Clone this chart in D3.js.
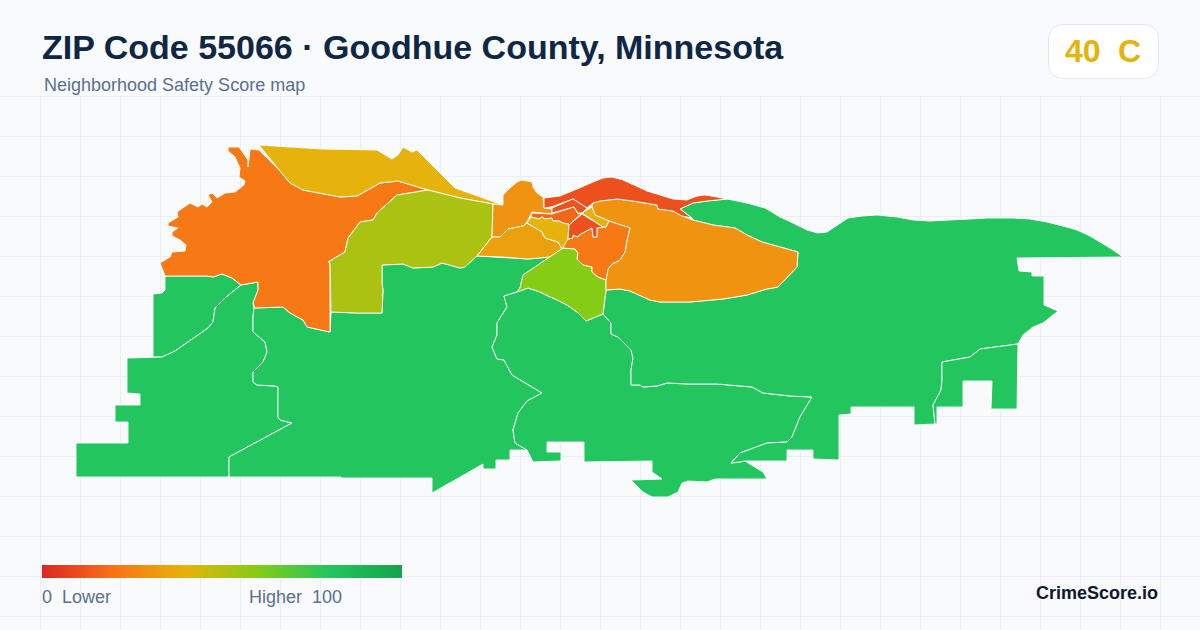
<!DOCTYPE html>
<html>
<head>
<meta charset="utf-8">
<script src="https://cdn.jsdelivr.net/npm/d3@7/dist/d3.min.js"></script>
<style>
html,body{margin:0;padding:0;background:#f8fafc;}
svg{display:block;font-family:"Liberation Sans",Arial,sans-serif;}
</style>
</head>
<body>
<svg id="chart" width="1200" height="630"></svg>
<script>
// Text
const titleText = "ZIP Code 55066 · Goodhue County, Minnesota";
const subtitleText = "Neighborhood Safety Score map";
const gradeScore = "40";
const gradeLetter = "C";
const legendLow = "0  Lower";
const legendHigh = "Higher  100";
const brandText = "CrimeScore.io";

// Colour scale
const scoreStops = [0, 20, 40, 60, 80, 100];
const scoreColors = ["#dc2626", "#f97316", "#e5b30b", "#84cc16", "#22c55e", "#16a34a"];

// Neighborhood scores
const regionScores = {
  greenNW: 80, greenW: 80, greenC: 80, greenS: 80, greenE: 80, greenSE: 80,
  west: 22, northGold: 40, olive: 52, northCenter: 30, southCenter: 34, lime: 60,
  eastCenter: 22, bigEast: 30, riverStrip: 11, band: 12, core: 17, coreGold: 40, coreRed: 11, coreTip: 39
};

// Neighborhood outlines (map grid units, y runs south)
const greenNW = [[16.5,27.6],[20.7,27.6],[21.3,27.7],[22.2,27.4],[23.2,27.8],[24.1,28.5],[22.5,29.8],[21.5,30.8],[21.3,32.2],[20.8,32.8],[17.5,35.1],[16.2,35.7],[15.3,35.7],[15.3,29.4],[16.2,29.3],[16.5,29]];
const greenW = [[24.1,28.5],[25.8,28.2],[25.8,29],[25.3,30.3],[25.4,30.8],[25.3,31.7],[25.3,33.2],[26.5,34.2],[26.7,35.2],[26.3,36.2],[25.3,37.2],[25.3,38.2],[25.7,38.5],[27.5,38.6],[27.8,38.7],[27.8,41.7],[28,42],[29.2,42.3],[22.9,45.7],[22.9,47.7],[7.6,47.7],[7.6,44.3],[12.8,44.3],[12.8,42.2],[11.5,42.2],[11.5,40.5],[14,40.5],[14,39.4],[12.7,39.3],[12.7,35.8],[16.2,35.7],[17.5,35.1],[20.8,32.8],[21.3,32.2],[21.5,30.8],[22.5,29.8]];
const greenC = [[25.4,30.8],[28.3,30.7],[29,31.3],[30.3,32],[30.7,32.7],[33,33.2],[33.1,31.2],[35.7,31.3],[38.2,31.3],[38.3,29],[38.2,28.3],[38.2,26.5],[40.3,26.4],[41.3,26.8],[43.3,26.7],[44.2,26.3],[46,26.8],[46.4,26.7],[47.7,25.6],[52.8,25.9],[55,25.7],[56.3,24.9],[52.3,27.5],[52,28.8],[51.7,29.2],[50.4,29.6],[50.7,30.7],[49.7,32.3],[49.7,33.5],[49.2,34.7],[49.7,35.9],[50.4,36],[51.2,37.5],[54.2,39.3],[52.7,40.1],[51.8,41.3],[51.3,43],[51.5,44.3],[52.7,45],[51,45],[51,46],[49.6,46],[49.6,46.9],[48.3,46.9],[48.3,46.4],[43.2,49.3],[43.2,47.8],[34.1,47.8],[34.1,47.7],[22.9,47.7],[22.9,45.7],[29.2,42.3],[28,42],[27.8,41.7],[27.8,38.7],[27.5,38.6],[25.7,38.5],[25.3,38.2],[25.3,37.2],[26.3,36.2],[26.7,35.2],[26.5,34.2],[25.3,33.2],[25.3,31.7]];
const greenS = [[51.7,29.2],[52.8,28.8],[54,29.2],[54.8,29.6],[55.5,29.9],[56.7,30.5],[57.7,31.2],[58.6,32.1],[60.3,31.4],[61.1,32.3],[61.1,33.4],[61.8,33.7],[63.1,35],[63.3,35.8],[63.1,37],[63.1,38.5],[64,38.5],[64.3,38.7],[65.7,38.6],[66.7,38.3],[68.8,38.4],[71.7,38.4],[75.2,38.7],[76.3,39.3],[79,39.6],[81.2,39.7],[80,41.7],[79.2,43.7],[78.7,44.2],[76.7,44.3],[74,45.3],[73.1,46.3],[74,46.2],[74.5,46.1],[76.3,47.2],[76.7,47.9],[71.5,47.9],[70.7,48.2],[68.8,48.1],[68.2,48.3],[67.8,49.2],[66.8,49.7],[65.2,49.7],[64.3,49.2],[63.1,48],[66.2,47.9],[65.2,47.2],[65.2,46.1],[58.4,46.2],[58.4,44.2],[54.7,44.2],[54.7,45.2],[56.1,45.2],[56.1,46.1],[53.3,46.2],[52.7,45],[51.5,44.3],[51.3,43],[51.8,41.3],[52.7,40.1],[54.2,39.3],[51.2,37.5],[50.4,36],[49.7,35.9],[49.2,34.7],[49.7,33.5],[49.7,32.3],[50.7,30.7],[50.4,29.6]];
const greenE = [[60.3,31.4],[60.6,29],[62,28.9],[63,29.1],[65,30],[66,30.2],[69,30.2],[72.3,29.9],[74.7,29.5],[76.7,28.9],[77.8,28.7],[79.7,26.7],[79.8,25.2],[76.2,24.2],[74.7,23.5],[73.5,22.8],[71.3,22.5],[69.3,22],[69.2,21.8],[68,20.9],[69.3,20.3],[70.7,20.1],[72.7,19.9],[74.7,20.3],[76.5,20.8],[78,21.7],[79.5,22.4],[80.7,23],[81.8,23.3],[82.7,23.2],[84.8,21.8],[86.2,21.6],[87.7,21.5],[89.7,21.7],[91.3,22],[93,22.1],[95,22],[97,21.9],[98.7,21.8],[101.3,21.8],[103,21.9],[104.7,22.2],[106.3,22.6],[107.7,23],[109,23.6],[110,24.2],[111,24.8],[112.3,25.7],[101.7,25.8],[101.9,27.1],[103.2,27.2],[103.2,27.6],[104.4,27.6],[104.4,30.5],[105.8,31.1],[104.3,32.3],[103.3,32.7],[102.3,33.5],[101.8,34.4],[98,34.9],[97,35.7],[94.2,36.2],[94.2,38],[94.1,39],[93.3,40.5],[93.5,42.4],[91.4,42.5],[91.4,40.7],[85.1,40.7],[85.1,41.4],[83.9,41.5],[83.9,46],[81.3,45.9],[81.3,45],[78.7,45],[78.7,46.1],[75.6,46.1],[74.5,46.1],[74,46.2],[73.1,46.3],[74,45.3],[76.7,44.3],[78.7,44.2],[79.2,43.7],[80,41.7],[81.2,39.7],[79,39.6],[76.3,39.3],[75.2,38.7],[71.7,38.4],[68.8,38.4],[66.7,38.3],[65.7,38.6],[64.3,38.7],[64,38.5],[63.1,38.5],[63.1,37],[63.3,35.8],[63.1,35],[61.8,33.7],[61.1,33.4],[61.1,32.3]];
const greenSE = [[101.8,34.4],[101.7,40.9],[99.1,40.9],[99.2,38.1],[96.3,38.1],[96.3,40.7],[93.7,40.7],[93.7,42.4],[93.5,42.4],[93.3,40.5],[94.1,39],[94.2,38],[94.2,36.2],[97,35.7],[98,34.9]];
const west = [[25,14.9],[25.9,15],[28,17.1],[29,18.3],[30.3,19],[34,19.7],[35.7,19.6],[38,18.3],[39.8,18.1],[42.8,19],[39.7,19.5],[37.7,21.3],[37.3,22],[36,22.2],[34.8,23.8],[34.5,25.2],[32.8,26.2],[33,26.3],[33,33.2],[30.7,32.7],[30.3,32],[29,31.3],[28.3,30.7],[25.5,30.8],[25.3,30.3],[25.8,29],[25.8,28.2],[24.1,28.5],[23.2,27.8],[22.2,27.4],[21.3,27.7],[20.7,27.6],[16.5,27.6],[16,26.3],[17,25.7],[17.2,25.2],[18.5,25.1],[18.6,24.5],[18,24],[17.2,23.6],[17.2,23.2],[17.8,22.8],[16.8,22.6],[16.8,22.3],[17.8,21.7],[17.7,21.2],[19,20.3],[19.8,20.7],[20.2,20.4],[20.7,20.7],[21.2,20.2],[20.8,19.5],[21.2,19.3],[21.7,19.8],[22.5,19.3],[23.5,19.2],[24.4,18.5],[24.5,18.1],[23.9,17.7],[24,16.8],[23.5,15.7],[22.8,15.1],[22.8,14.7],[23.9,14.7],[24.8,16],[24.8,16.7]];
const northGold = [[25.9,14.5],[32.2,14.9],[37.7,15],[39.2,15.9],[39.8,15.5],[40.3,14.7],[41.2,15.2],[41.7,15],[45.5,18.8],[50.3,20.5],[49.3,20.4],[46,19.8],[42.8,19],[39.8,18.1],[38,18.3],[35.7,19.6],[34,19.7],[30.3,19],[29,18.3],[28,17.1]];
const olive = [[42.8,19],[46,19.8],[49.3,20.4],[49.2,23.7],[47.7,25.6],[46.5,26.7],[46,26.8],[44.2,26.3],[43.3,26.7],[41.3,26.8],[40.3,26.4],[38.2,26.5],[38.2,28.3],[38.3,29],[38.2,31.3],[35.7,31.3],[33.1,31.2],[33,26.3],[32.8,26.2],[34.5,25.2],[34.8,23.8],[36,22.2],[37.3,22],[37.7,21.3],[39.7,19.5]];
const northCenter = [[49.2,23.7],[49.3,20.4],[50.3,20.5],[50.3,19.5],[51,18.8],[51.7,18.2],[52.2,18],[53.2,18.2],[53.3,18.7],[53.7,19.3],[54.3,19.7],[54.4,20.8],[55.2,20.9],[55.2,21.4],[53.2,21.2],[52.7,22.2],[52.3,22.6],[50.8,22.9],[50,23.7]];
const southCenter = [[47.7,25.6],[49.2,23.7],[50,23.7],[50.8,22.9],[52.3,22.6],[52.7,22.3],[54.2,23.2],[54.5,23.8],[55.8,24.2],[56.2,24.9],[55,25.7],[52.8,25.9],[50.3,25.7]];
const core = [[53.2,21.3],[55.2,21.4],[57.4,20.7],[57.8,21.4],[58.2,21.3],[56.9,22.5],[56.3,22.3],[55.9,22.1],[55.3,22.1],[55.2,21.8],[54.5,21.9],[54.2,21.7],[53.9,21.9],[53.1,21.7]];
const coreGold = [[52.7,22.3],[53.1,21.7],[53.9,21.9],[54.2,21.7],[54.5,21.9],[55.2,21.8],[55.3,22.1],[55.9,22.1],[56.3,22.3],[56.9,22.4],[56.8,23.9],[56.2,24.9],[55.8,24.2],[54.5,23.8],[54.2,23.2]];
const riverStrip = [[54.4,19.8],[56,19.6],[57.7,18.9],[59.3,18.2],[60.3,17.8],[61.2,17.7],[62.3,18],[64.7,19.1],[67.3,19.9],[68.7,20],[69.7,19.6],[70.5,19.5],[71.7,19.7],[72.7,19.9],[70.7,20.1],[69.3,20.3],[68,20.9],[69.2,21.8],[68.2,21.6],[67.3,21.1],[65.8,20.9],[65.7,20.5],[63.3,20.1],[61.7,19.9],[60,20.1],[59.3,20.3],[58.7,20.8],[57.3,19.9],[55.1,20.7],[54.4,20.8]];
const band = [[55.2,20.8],[57.3,19.9],[58.7,20.8],[58.2,21.3],[57.8,21.3],[57.4,20.7],[55.2,21.3]];
const coreRed = [[58.2,21.4],[60.3,22.7],[59.7,22.8],[59.7,23.7],[59.3,23.7],[59.2,22.8],[57.9,23.5],[57.8,23.7],[57.3,23.5],[57.3,23.8],[56.8,23.9],[56.9,22.5]];
const coreTip = [[58.2,21.3],[59.2,20.7],[59.5,21.5],[60.9,22.1],[60.6,22.7],[60.3,22.7]];
const eastCenter = [[56.3,24.8],[56.5,24.3],[56.8,23.9],[57.3,23.8],[57.3,23.5],[57.8,23.7],[57.9,23.5],[59.2,22.8],[59.3,23.7],[59.7,23.7],[59.7,22.8],[60.6,22.7],[60.9,22.1],[63,22.8],[62.7,24],[62.5,25.2],[62,26],[61.2,26.4],[60.8,26.9],[60.6,28],[59.8,27.7],[59.2,27.2],[59.2,26.7],[58.3,26.5],[57.7,25.9],[57.8,25.3],[57.5,24.9]];
const lime = [[56.3,24.8],[57.5,24.9],[57.8,25.3],[57.7,25.9],[58.3,26.5],[59.2,26.7],[59.2,27.2],[59.8,27.7],[60.6,28],[60.6,29],[60.3,31.4],[58.6,32.1],[57.7,31.2],[56.7,30.5],[55.5,29.9],[54.8,29.6],[54,29.2],[52.8,28.8],[51.7,29.2],[52,28.8],[52.3,27.5]];
const bigEast = [[60.6,28],[60.8,26.9],[61.2,26.4],[62,26],[62.5,25.2],[62.7,24],[63,22.8],[60.9,22.1],[59.5,21.5],[59.2,20.7],[59.3,20.3],[60,20.1],[61.7,19.9],[63.3,20.1],[65.7,20.5],[65.8,20.9],[67.3,21.1],[68.2,21.6],[69.3,22],[71.3,22.5],[73.5,22.8],[74.7,23.5],[76.2,24.2],[79.8,25.2],[79.7,26.7],[77.8,28.7],[76.7,28.9],[74.7,29.5],[72.3,29.9],[69,30.2],[66,30.2],[65,30],[63,29.1],[62,28.9],[60.6,29]];

const regions = [
  ["greenNW", greenNW], ["greenW", greenW], ["greenC", greenC], ["greenS", greenS], ["greenE", greenE], ["greenSE", greenSE],
  ["west", west], ["northGold", northGold], ["olive", olive], ["northCenter", northCenter], ["southCenter", southCenter],
  ["lime", lime], ["bigEast", bigEast], ["eastCenter", eastCenter], ["riverStrip", riverStrip], ["band", band],
  ["core", core], ["coreGold", coreGold], ["coreRed", coreRed], ["coreTip", coreTip]
];

const W = 1200, H = 630;
const svg = d3.select("#chart");
const color = d3.scaleLinear().domain(scoreStops).range(scoreColors);

// Background grid
const gridX = d3.range(40.5, W, 40);
const gridY = d3.range(96.5, H, 40);
const grid = svg.append("g").attr("stroke", "#e9eff6").attr("stroke-width", 1);
grid.selectAll("line.v").data(gridX).join("line").attr("class","v")
  .attr("x1", d => d).attr("x2", d => d).attr("y1", 96).attr("y2", H);
grid.selectAll("line.h").data(gridY).join("line").attr("class","h")
  .attr("x1", 0).attr("x2", W).attr("y1", d => d).attr("y2", d => d);

// Map
const features = {
  type: "FeatureCollection",
  features: regions.map(([id, ring]) => ({
    type: "Feature", id, properties: { score: regionScores[id] },
    geometry: { type: "Polygon", coordinates: [ring.concat([ring[0]])] }
  }))
};
const projection = d3.geoIdentity().fitExtent([[76, 145], [1123, 497]], features);
const path = d3.geoPath(projection);
svg.append("g").selectAll("path").data(features.features).join("path")
  .attr("d", path)
  .attr("fill", d => color(d.properties.score))
  .attr("stroke", "#ffffff")
  .attr("stroke-width", 0.9)
  .attr("stroke-linejoin", "round");

// Header
svg.append("text").attr("x", 42).attr("y", 59)
  .attr("font-size", 34).attr("font-weight", 700).attr("fill", "#0f2744").text(titleText);
svg.append("text").attr("x", 44).attr("y", 91)
  .attr("font-size", 18).attr("fill", "#5b6f8f").text(subtitleText);

// Grade badge
svg.append("rect").attr("x", 1048.5).attr("y", 24.5).attr("width", 110).attr("height", 54).attr("rx", 14)
  .attr("fill", "#ffffff").attr("stroke", "#e2e8f0");
svg.append("text").attr("x", 1065).attr("y", 62).attr("font-size", 32).attr("font-weight", 700)
  .attr("fill", color(+gradeScore)).text(gradeScore);
svg.append("text").attr("x", 1118).attr("y", 62).attr("font-size", 32).attr("font-weight", 700)
  .attr("fill", color(+gradeScore)).text(gradeLetter);

// Legend
const defs = svg.append("defs");
const legendScale = d3.scaleLinear().domain([0, 100]).range([42, 402]);
const grad = defs.append("linearGradient").attr("id", "legendGrad");
grad.selectAll("stop").data(scoreStops).join("stop")
  .attr("offset", d => d + "%").attr("stop-color", d => color(d));
svg.append("rect").attr("x", legendScale(0)).attr("y", 565)
  .attr("width", legendScale(100) - legendScale(0)).attr("height", 13).attr("fill", "url(#legendGrad)");
svg.append("text").attr("x", 42).attr("y", 603).attr("font-size", 18).attr("fill", "#5b6f8f")
  .attr("xml:space", "preserve").style("white-space", "pre").text(legendLow);
svg.append("text").attr("x", 249).attr("y", 603).attr("font-size", 18).attr("fill", "#5b6f8f")
  .attr("xml:space", "preserve").style("white-space", "pre").text(legendHigh);
svg.append("text").attr("x", 1158).attr("y", 599).attr("text-anchor", "end")
  .attr("font-size", 18).attr("font-weight", 700).attr("fill", "#0f172a").text(brandText);
</script>
</body>
</html>
